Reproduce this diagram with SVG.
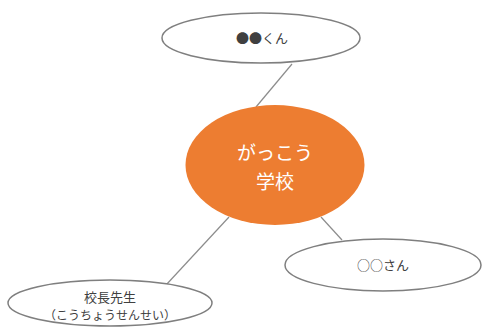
<svg xmlns="http://www.w3.org/2000/svg" width="482" height="327" viewBox="0 0 482 327">
<style>
.lk{stroke:#8c8c8c;stroke-width:1.2;fill:none}
.sub{fill:#ffffff;stroke:#7f7f7f;stroke-width:1.5}
.t{font-family:"Noto Sans CJK JP","Noto Sans",sans-serif;font-size:13px;fill:#404040;text-anchor:middle}
.s{font-size:12px}
.c{font-family:"Noto Sans CJK JP","Noto Sans",sans-serif;font-size:19px;fill:#ffffff;text-anchor:middle}
</style>
<rect width="482" height="327" fill="#ffffff"/>
<g id="connectors">
<line class="lk" x1="292" y1="64" x2="256" y2="107"/>
<line class="lk" x1="229" y1="217" x2="166" y2="285"/>
<line class="lk" x1="321" y1="217" x2="342" y2="240"/>
</g>
<g id="top">
<ellipse class="sub" cx="261" cy="38" rx="99" ry="25"/>
<text class="t" x="262" y="43">●●くん</text>
</g>
<g id="center">
<ellipse cx="275" cy="165" rx="89.5" ry="60" fill="#ed7d31"/>
<text class="c" x="275" y="160">がっこう</text>
<text class="c" x="275" y="189">学校</text>
</g>
<g id="bottomleft">
<ellipse class="sub" cx="110" cy="303" rx="102" ry="23"/>
<text class="t" x="110" y="302">校長先生</text>
<text class="t s" x="110" y="320">（こうちょうせんせい）</text>
</g>
<g id="bottomright">
<ellipse class="sub" cx="383" cy="265" rx="98" ry="26"/>
<text class="t" x="383" y="270">○○さん</text>
</g>
</svg>
